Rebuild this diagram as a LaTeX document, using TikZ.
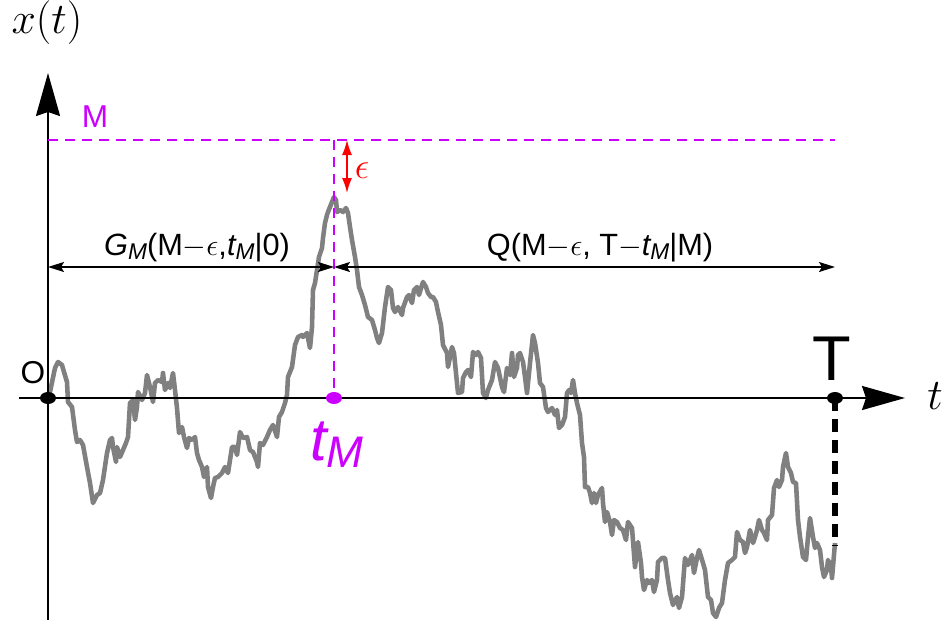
\documentclass[tikz,border=0pt]{standalone}
\usepackage{fontspec}
\setmainfont{Liberation Sans}
\usetikzlibrary{arrows.meta,shapes.geometric}

\definecolor{violeta}{RGB}{204,0,255}
\definecolor{gris}{RGB}{128,128,128}
\newcommand{\idx}[1]{\raisebox{-0.25ex}{\scalebox{0.74}{\itshape #1}}}

\tikzset{
  eje/.style={line width=1.2pt, -{Stealth[length=0.86cm,width=0.48cm,inset=0.08cm]}},
  punto/.style={ellipse, fill, minimum width=0.32cm, minimum height=0.24cm, inner sep=0pt},
  guia/.style={violeta, line width=0.85pt, dash pattern=on 0.2cm off 0.14cm},
  cota/.style={line width=0.85pt, {Stealth[length=0.32cm,width=0.2cm,inset=0.06cm]}-{Stealth[length=0.32cm,width=0.2cm,inset=0.06cm]}},
  camino/.style={gris, line width=2.6pt, line join=round},
}

\begin{document}
\begin{tikzpicture}[x=0.02cm, y=-0.02cm]
  \useasboundingbox (0,0) rectangle (947,626);

  % Trayectoria aleatoria
  \draw[camino] plot coordinates {
    (48,398) (50,392) (55,368) (58,362) (62,365) (64,372) (67,382) (68,402) (72,407) (75,430)
    (77,442) (80,440) (83,445) (87,467) (90,483) (93,503) (97,495) (100,493) (103,480) (107,453)
    (110,440) (112,438) (113,447) (116,462) (117,447) (120,457) (123,450) (126,443) (128,437) (130,403)
    (133,400) (135,420) (137,407) (138,392) (142,400) (145,393) (147,375) (150,387) (153,402) (155,383)
    (158,380) (162,382) (163,373) (165,390) (168,383) (170,388) (173,373) (175,390) (177,408) (179,433)
    (182,427) (184,437) (187,448) (189,438) (192,440) (195,437) (197,453) (199,460) (202,467) (204,477)
    (207,467) (208,487) (211,498) (213,487) (215,478) (218,477) (222,473) (225,467) (228,473) (232,447)
    (235,447) (237,455) (240,432) (243,438) (247,437) (250,450) (253,452) (257,462) (258,467) (260,443)
    (263,445) (267,437) (270,430) (273,425) (277,437) (279,417) (282,412) (285,403) (287,395)
    (288,377) (292,367) (295,345) (298,337) (302,335) (303,337) (307,333) (310,348) (312,327) (313,290)
    (315,283) (317,270) (319,257) (322,248) (323,238) (325,223) (327,215) (328,212) (330,207) (332,202)
    (334,197) (336,200) (337,212) (340,210) (343,212) (346,208) (348,213) (350,227) (352,240) (355,257)
    (357,270) (359,287) (362,295) (365,305) (368,317) (372,320) (375,330) (377,338) (379,343) (382,333)
    (385,307) (388,287) (391,290) (393,308) (395,312) (398,307) (402,315) (403,308) (407,297) (409,295)
    (412,303) (414,290) (417,287) (419,295) (422,285) (423,282) (426,287) (428,293) (431,297) (433,297)
    (436,302) (438,312) (441,325)
    (443,345) (447,353) (448,367) (452,347) (454,353) (456,373) (458,393) (462,392) (463,378) (466,372)
    (468,370) (471,377) (473,352) (476,355) (478,352) (481,358) (483,393) (486,398) (488,390) (492,380)
    (495,362) (498,368) (502,387) (504,392) (507,368) (510,375) (512,353) (514,377) (517,368) (518,355)
    (520,353) (523,362) (525,377) (527,393) (530,363) (533,335) (535,343) (538,363) (540,383) (543,387)
    (546,408) (548,412) (552,408) (555,415) (557,410) (559,428) (562,425) (565,417) (567,393) (569,390)
    (571,393) (573,380) (575,393) (577,403) (580,415) (582,443) (584,457) (585,487) (588,487) (590,493)
    (592,503) (594,493) (596,503) (598,495) (602,488) (603,503) (605,522) (607,512) (610,522) (612,535)
    (614,520) (617,522) (620,528)
    (623,530) (626,540) (628,522) (632,528) (635,567) (638,542) (641,563) (642,577) (644,590) (647,580)
    (649,583) (652,580) (654,592) (657,580) (658,562) (662,558) (665,558) (668,580) (670,593) (673,605)
    (677,597) (679,608) (682,597) (685,558) (688,565) (692,555) (694,573) (697,558) (699,550) (703,563)
    (705,570) (708,597) (711,600) (713,613) (716,617) (719,608) (722,603) (725,580) (728,563) (732,560)
    (735,557) (737,532) (740,540) (743,542) (745,553) (747,547) (750,530) (753,543) (755,537) (757,530)
    (759,520) (762,530) (764,533) (767,540) (768,520) (772,515) (774,488) (777,480) (779,487) (782,480)
    (783,467) (786,453) (788,467) (791,473) (793,482) (796,483) (798,520) (800,537) (803,557) (806,560)
    (808,537) (810,518) (813,537) (815,548) (817,543) (820,550) (822,567) (824,577) (827,570) (828,560)
    (831,567) (832,578) (835,543)};

  % Puntos de referencia
  \coordinate (ybot) at (48,620);
  \coordinate (ytip) at (48,73);
  \coordinate (xleft) at (19,398);
  \coordinate (xtip) at (905,398);
  \coordinate (Mleft) at (48,140);
  \coordinate (Mtop) at (334,140);
  \coordinate (Mright) at (835,140);
  \coordinate (epsTop) at (347,140);
  \coordinate (epsBot) at (347,193);
  \coordinate (g0) at (48,267);
  \coordinate (g1) at (334,267);
  \coordinate (g2) at (835,267);
  \coordinate (wend) at (835,545);

  % Ejes
  \draw[eje] (ybot) -- (ytip);
  \draw[eje] (xleft) -- (xtip);
  \node[font=\fontsize{24}{28}\selectfont, anchor=base] (xlab) at (47,33) {$x(t)$};
  \node[font=\fontsize{25}{28}\selectfont, anchor=base] (tlab) at (935,409) {$t$};

  % Nivel M y tiempo del maximo
  \draw[guia] (Mleft) -- (Mright);
  \node[punto, violeta] (tM) at (334,398) {};
  \draw[guia] (Mtop) -- (tM.center);
  \node[violeta, font=\fontsize{18}{20}\selectfont, anchor=base] (Mlab) at (95,127) {M};
  \node[violeta, font=\fontsize{34}{38}\selectfont, anchor=base] (tMlab) at (337,460) {\itshape t\idx{M}};

  % Intervalo epsilon
  \draw[red, line width=0.85pt, {Latex[length=0.3cm,width=0.2cm]}-{Latex[length=0.3cm,width=0.2cm]}] (epsTop) -- (epsBot);
  \node[red, font=\fontsize{21}{22}\selectfont, anchor=base] (epslab) at (362,178) {$\epsilon$};

  % Cotas con las probabilidades
  \draw[cota] (g0) -- (g1);
  \draw[cota] (g1) -- (g2);
  \node[font=\fontsize{17.5}{20}\selectfont, anchor=base] (Glab) at (197,255) {\itshape G\idx{M}\upshape(M$-\epsilon$,\itshape t\idx{M}\upshape|0)};
  \node[font=\fontsize{17.5}{20}\selectfont, anchor=base] (Qlab) at (600,255) {Q(M$-\epsilon$, T$-$\itshape t\idx{M}\upshape|M)};

  % Origen y tiempo final
  \node[punto] (O) at (48,398) {};
  \node[font=\fontsize{18}{20}\selectfont, anchor=base] (Olab) at (33,383) {O};
  \node[punto] (Tpt) at (835,398) {};
  \draw[line width=3.4pt, dash pattern=on 0.26cm off 0.16cm] (Tpt.center) -- (wend);
  \node[font=\fontsize{36}{40}\selectfont, anchor=base] (Tlab) at (832,380) {T};
\end{tikzpicture}
\end{document}
